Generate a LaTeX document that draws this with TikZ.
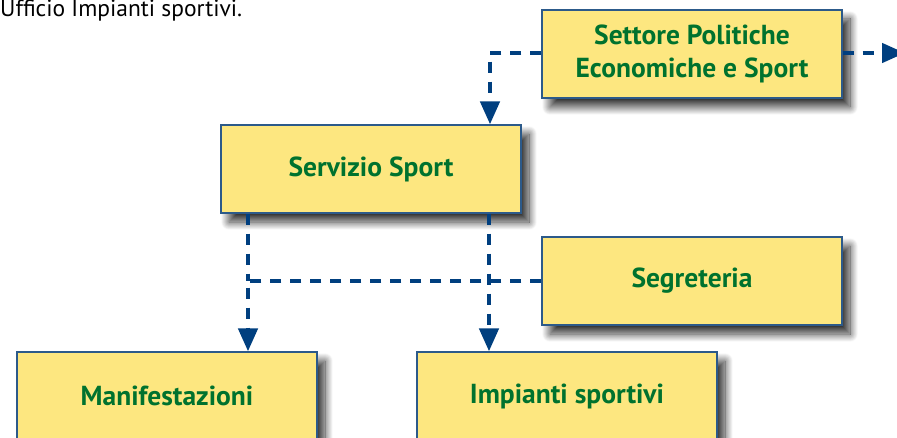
\documentclass[tikz,border=0pt]{standalone}
\usepackage{fontspec}
\setmainfont{PT Sans}
\usetikzlibrary{arrows.meta,shadows.blur}
\definecolor{boxfill}{HTML}{FDE780}
\definecolor{boxline}{HTML}{2C5A8A}
\definecolor{txtgreen}{HTML}{00722E}
\definecolor{arrblue}{HTML}{003F7F}
\tikzset{
  orgbox/.style={draw=boxline, line width=1.2pt, fill=boxfill,
    minimum width=300pt, minimum height=88pt, inner sep=0pt,
    text=txtgreen, font=\fontsize{27.5}{33}\selectfont\bfseries, align=center,
    blur shadow={shadow xshift=8pt, shadow yshift=-9pt, shadow blur radius=8pt, shadow blur steps=16, shadow opacity=80}},
  link/.style={draw=arrblue, line width=4.5pt, dash pattern=on 11pt off 9pt},
  linkarrow/.style={link, -{Triangle[length=23pt,width=19pt,sep=0pt]}}
}
\begin{document}
\begin{tikzpicture}[x=1pt,y=-1pt]
\useasboundingbox (0,0) rectangle (897,438);
\node[anchor=base west, inner sep=0pt, font=\fontsize{23.5}{26}\selectfont] (title) at (0,17) {Ufficio Impianti sportivi.};

\node[orgbox] (set) at (692,54) {Settore Politiche\\Economiche e Sport};
\node[orgbox] (serv) at (371,169) {Servizio Sport};
\node[orgbox] (seg) at (692,281) {Segreteria};
\node[orgbox] (man) at (167,396) {Manifestazioni};
\node[orgbox] (imp) at (567,396) {Impianti sportivi};

\coordinate (c1) at (490,53);
\coordinate (rend) at (905,53);
\coordinate (c2) at (248,281);

\draw[linkarrow] (set.west |- c1) -- (c1) -- (c1 |- serv.north);
\draw[linkarrow] (set.east |- rend) -- (rend);
\draw[link] (c2 |- serv.south) -- (c2);
\draw[linkarrow] (seg.west) -- (c2) -- (c2 |- man.north);
\draw[linkarrow] (489,0 |- serv.south) -- (489,0 |- imp.north);
\end{tikzpicture}
\end{document}
